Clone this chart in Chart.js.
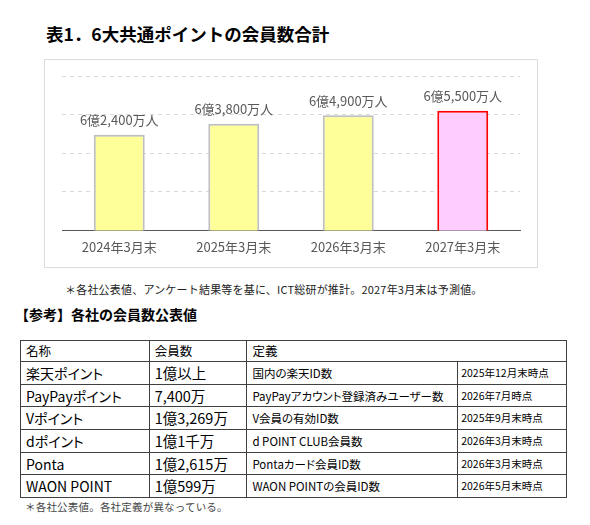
<!DOCTYPE html>
<html lang="ja">
<head>
<meta charset="utf-8">
<script src="https://cdn.jsdelivr.net/npm/chart.js@4.4.1/dist/chart.umd.min.js"></script>
<style>
  body {
    margin: 0;
    width: 590px;
    height: 525px;
    background: #fff;
    position: relative;
    overflow: hidden;
    font-family: "Noto Sans CJK JP", sans-serif;
    color: #000;
  }
  .abs { position: absolute; white-space: nowrap; }
  #title { left: 46px; top: 22px; font-size: 17.5px; font-weight: bold; line-height: 24px; }
  #chart-box { left: 44px; top: 59px; width: 494px; height: 209px; border: 1px solid #dcdcdc; box-sizing: border-box; }
  #chart { left: 44px; top: 59px; }
  #note { left: 65px; top: 281px; font-size: 11px; line-height: 16px; color: #222; letter-spacing: 0.2px; }
  #ref-title { left: 15px; top: 304px; font-size: 14px; font-weight: bold; line-height: 20px; }
  #points {
    left: 20px; top: 340px; width: 547px;
    border-collapse: collapse;
    border: 1px solid #404040;
    font-feature-settings: "palt";
  }
  #points td {
    border: 1px solid #404040;
    padding: 0 0 0 5px;
    height: 22.7px;
    line-height: 16px;
    vertical-align: middle;
    box-sizing: border-box;
  }
  #points tr.head td { height: 21px; font-size: 12.5px; }
  #points td.name { font-size: 14px; }
  #points td.count { font-size: 14.5px; }
  #points td.def { font-size: 11.5px; }
  #points td.date { font-size: 10.5px; border-left: 1px dashed #404040; padding-left: 3px; }
  #foot { left: 25px; top: 499px; font-size: 10.5px; line-height: 16px; color: #444; letter-spacing: 0.2px; }
</style>
</head>
<body>
<div id="title" class="abs">表1．6大共通ポイントの会員数合計</div>
<div id="chart-box" class="abs"></div>
<canvas id="chart" class="abs" width="494" height="209"></canvas>
<div id="note" class="abs">＊各社公表値、アンケート結果等を基に、ICT総研が推計。2027年3月末は予測値。</div>
<div id="ref-title" class="abs">【参考】各社の会員数公表値</div>
<table id="points" class="abs">
  <colgroup><col style="width:129px"><col style="width:98px"><col style="width:211px"><col style="width:109px"></colgroup>
  <tbody id="points-body"></tbody>
</table>
<div id="foot" class="abs">＊各社公表値。各社定義が異なっている。</div>

<script>
// chart data (unit: 万人)
const periods = ['2024年3月末', '2025年3月末', '2026年3月末', '2027年3月末'];
const totalMembers = [62400, 63800, 64900, 65500];
const barColors = ['#ffff99', '#ffff99', '#ffff99', '#ffccff'];
const barBorders = ['#bfbfbf', '#bfbfbf', '#bfbfbf', '#ff0000'];

// reference table
const pointNames = ['楽天ポイント', 'PayPayポイント', 'Vポイント', 'dポイント', 'Ponta', 'WAON POINT'];
const memberCounts = ['1億以上', '7,400万', '1億3,269万', '1億1千万', '1億2,615万', '1億599万'];
const definitions = ['国内の楽天ID数', 'PayPayアカウント登録済みユーザー数', 'V会員の有効ID数', 'd POINT CLUB会員数', 'Pontaカード会員ID数', 'WAON POINTの会員ID数'];
const asOfDates = ['2025年12月末時点', '2026年7月時点', '2025年9月末時点', '2026年3月末時点', '2026年3月末時点', '2026年5月末時点'];

const FONT = '"Noto Sans CJK JP", sans-serif';

const tbody = document.getElementById('points-body');
const head = document.createElement('tr');
head.className = 'head';
head.innerHTML = '<td>名称</td><td>会員数</td><td colspan="2">定義</td>';
tbody.appendChild(head);
pointNames.forEach((name, i) => {
  const tr = document.createElement('tr');
  tr.innerHTML = `<td class="name">${name}</td><td class="count">${memberCounts[i]}</td>` +
    `<td class="def">${definitions[i]}</td><td class="date">${asOfDates[i]}</td>`;
  tbody.appendChild(tr);
});

const formatMembers = v => `${Math.floor(v / 10000)}億${(v % 10000).toLocaleString('en-US')}万人`;

// draws the value above each bar
const valueLabels = {
  id: 'valueLabels',
  afterDatasetsDraw(chart) {
    const { ctx } = chart;
    const meta = chart.getDatasetMeta(0);
    ctx.save();
    ctx.font = `13px ${FONT}`;
    ctx.fillStyle = '#595959';
    ctx.textAlign = 'center';
    ctx.textBaseline = 'bottom';
    meta.data.forEach((bar, i) => {
      ctx.fillText(formatMembers(totalMembers[i]), bar.x, bar.y - 8);
    });
    ctx.restore();
  },
};

new Chart(document.getElementById('chart'), {
  type: 'bar',
  data: {
    labels: periods,
    datasets: [
      {
        data: totalMembers,
        backgroundColor: barColors,
        borderColor: barBorders,
        borderWidth: 2,
        borderSkipped: false,
        barPercentage: 0.445,
        categoryPercentage: 1,
      },
    ],
  },
  options: {
    responsive: false,
    animation: false,
    layout: {
      padding: { left: 18, right: 18, top: 17, bottom: 4 },
    },
    scales: {
      x: {
        grid: { display: false, drawTicks: false },
        border: { color: '#595959', width: 1 },
        ticks: {
          color: '#595959',
          padding: 9,
          font: { family: FONT, size: 13 },
        },
      },
      y: {
        min: 50000,
        max: 70000,
        ticks: { display: false, stepSize: 5000 },
        grid: {
          drawTicks: false,
          color: ctx => (ctx.tick && ctx.tick.value === 50000 ? 'rgba(0,0,0,0)' : '#d9d9d9'),
        },
        border: { display: false, dash: [4, 4] },
      },
    },
    plugins: {
      legend: { display: false },
      tooltip: { enabled: false },
    },
  },
  plugins: [valueLabels],
});
</script>
</body>
</html>
